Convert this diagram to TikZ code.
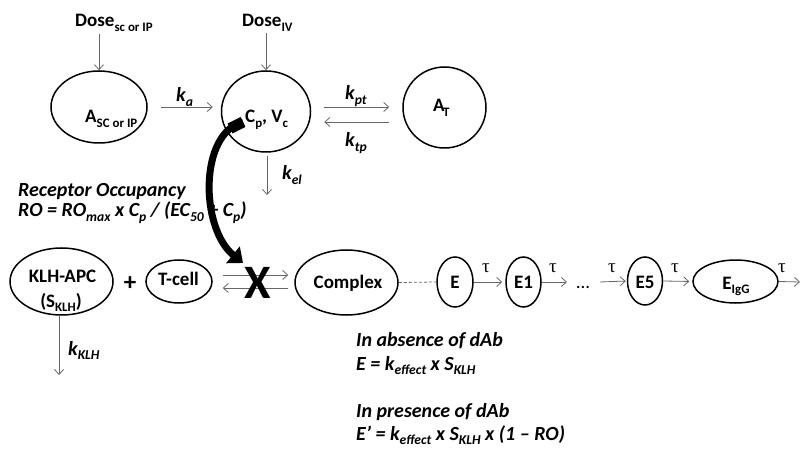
\documentclass[tikz,border=0pt]{standalone}
\usepackage{fontspec}
\setmainfont{Carlito}
\newfontfamily\greekfont{Liberation Serif}
\usetikzlibrary{arrows.meta,shapes.geometric}
% lowered, reduced-size subscript in the current font
\newcommand\lo[1]{\raisebox{-0.22em}{\scalebox{0.68}{#1}}}
\begin{document}
\begin{tikzpicture}[x=1pt,y=-1pt,
  lbl/.style={font=\fontsize{19}{22}\selectfont\bfseries, inner sep=0pt, anchor=base},
  ilbl/.style={font=\fontsize{20}{23}\selectfont\bfseries\itshape, inner sep=0pt, anchor=base},
  oval/.style={draw, ellipse, line width=1.5pt, inner sep=0pt},
  flow/.style={draw=black!60, line width=0.8pt, -{Straight Barb[length=5pt,width=9pt]}},
  tau/.style={font=\fontsize{19}{22}\selectfont\greekfont, inner sep=0pt, anchor=base},
  bigarrow/.style={line width=7pt, -{Triangle[length=13pt,width=21pt]}}
]
\useasboundingbox (0,0) rectangle (803,449);

% ---- pharmacokinetic part ----
\node[oval, minimum width=96pt, minimum height=72pt] (A) at (99,107) {};
\node[lbl, anchor=base west] (Atxt) at (85,123) {A\lo{SC or IP}};
\node[lbl, anchor=base west] (doseSC) at (75,27) {Dose\lo{sc or IP}};
\node[lbl, anchor=base west] (doseIV) at (242,27) {Dose\lo{IV}};
\node[oval, minimum width=89pt, minimum height=81pt] (Cp) at (266,111.5) {};
\node[lbl, anchor=base west] (Cptxt) at (245,123) {C\lo{p}, V\lo{c}};
\node[oval, minimum width=83pt, minimum height=81pt] (AT) at (444.5,107.5) {};
\node[lbl, anchor=base west] (ATtxt) at (433,112) {A\kern-1.5pt\lo{T}};

\node[ilbl, anchor=base west] (ka) at (176,102) {k\lo{a}};
\node[ilbl, anchor=base west] (kpt) at (345,100) {k\lo{pt}};
\node[ilbl, anchor=base west] (ktp) at (345,147) {k\lo{tp}};
\node[ilbl, anchor=base west] (kel) at (282,180) {k\lo{el}};

\draw[flow, shorten <=3pt] (doseSC.south -| A.north) -- (A.north);
\draw[flow, shorten <=2pt] (doseIV.south -| Cp.north) -- (Cp.north);
\draw[flow, shorten <=13pt, shorten >=8pt] (A.east) -- (Cp.west |- A.east);
\draw[flow, shorten <=13pt, shorten >=13pt] (Cp.east |- 0,107) -- (AT.west |- 0,107);
\draw[flow, shorten <=13pt, shorten >=13pt] (AT.west |- 0,122) -- (Cp.east |- 0,122);
\coordinate (elEnd) at (267,195);
\draw[flow, shorten <=3pt] (Cp.south -| elEnd) -- (elEnd);

% ---- receptor occupancy ----
\node[ilbl, anchor=base west] (roHead) at (18,197) {Receptor Occupancy};
\node[ilbl, anchor=base west] (roEq) at (18,217) {RO = RO\lo{max} x C\lo{p} / (EC\lo{50} + C\lo{p})};

% ---- immune response part ----
\node[oval, minimum width=103pt, minimum height=67pt] (KLH) at (61.5,281.5) {};
\node[lbl] (KLHtxt) at (62.5,282) {KLH-APC};
\node[lbl] (SKLH) at (61,307) {(S\lo{KLH})};
\node[lbl, font=\fontsize{25}{25}\selectfont\bfseries] (plus) at (130,290) {+};
\node[oval, minimum width=66pt, minimum height=43pt] (Tcell) at (179,281.5) {};
\node[lbl] (Tcelltxt) at (178.5,285) {T-cell};
\node[oval, minimum width=103pt, minimum height=65pt] (Cx) at (346.5,282.5) {};
\node[lbl] (Cxtxt) at (348,288) {Complex};

\coordinate (klhEnd) at (59,375);
\draw[flow] (KLH.south -| klhEnd) -- (klhEnd);
\node[ilbl, anchor=base west] (kklh) at (68,355) {k\lo{KLH}};

\draw[flow, shorten <=10pt, shorten >=6pt] (Tcell.east |- 0,275) -- (Cx.west |- 0,275);
\draw[flow, shorten <=6pt, shorten >=10pt] (Cx.west |- 0,288) -- (Tcell.east |- 0,288);
\node[lbl, font=\fontsize{48}{48}\selectfont\bfseries] (X) at (258,298) {X};

% transit chain
\node[oval, minimum width=36pt, minimum height=50pt] (E) at (455,282) {};
\node[lbl] (Etxt) at (455,288) {E};
\node[oval, minimum width=35pt, minimum height=50pt] (E1) at (523.5,282) {};
\node[lbl] (E1txt) at (523.5,288) {E1};
\node[lbl, font=\fontsize{19}{22}\selectfont] (dots) at (583,288) {...};
\node[oval, minimum width=35pt, minimum height=48pt] (E5) at (645,281) {};
\node[lbl] (E5txt) at (645,288) {E5};
\node[oval, minimum width=85pt, minimum height=43pt] (EIgG) at (735.5,281.5) {};
\node[lbl] (EIgGtxt) at (736,289) {E\lo{IgG}};

\draw[draw=black!60, line width=0.8pt, dash pattern=on 3pt off 2pt] (Cx.east) -- (E.west);
\draw[flow, shorten >=3pt] (E.east) -- (E1.west);
\coordinate (dotsL) at (567,282);
\coordinate (dotsR) at (600,282);
\coordinate (outEnd) at (800,282);
\draw[flow] (E1.east) -- (dotsL);
\draw[flow, shorten >=1pt] (dotsR) -- (E5.west);
\draw[flow, shorten >=3pt] (E5.east) -- (EIgG.west);
\draw[flow] (EIgG.east) -- (outEnd);

\node[tau] (tau1) at (486,272) {τ};
\node[tau] (tau2) at (553,272) {τ};
\node[tau] (tau3) at (612,272) {τ};
\node[tau] (tau4) at (675,272) {τ};
\node[tau] (tau5) at (782,272) {τ};

% ---- effect equations ----
\node[ilbl, anchor=base west] (absHead) at (356,346) {In absence of dAb};
\node[ilbl, anchor=base west] (absEq) at (356,370) {E = k\lo{effect} x S\lo{KLH}};
\node[ilbl, anchor=base west] (preHead) at (356,417) {In presence of dAb};
\node[ilbl, anchor=base west] (preEq) at (356,440) {E’ = k\lo{effect} x S\lo{KLH} x (1 – RO)};

% ---- blocking arrow from plasma concentration to complex formation ----
\coordinate (roStart) at (243,122);
\coordinate (roTip) at (243,263);
\draw[bigarrow] (roStart) .. controls (199,133) and (200,228) .. (roTip);
\draw[line width=11pt] (roStart) -- (230,128.5);
\end{tikzpicture}
\end{document}
